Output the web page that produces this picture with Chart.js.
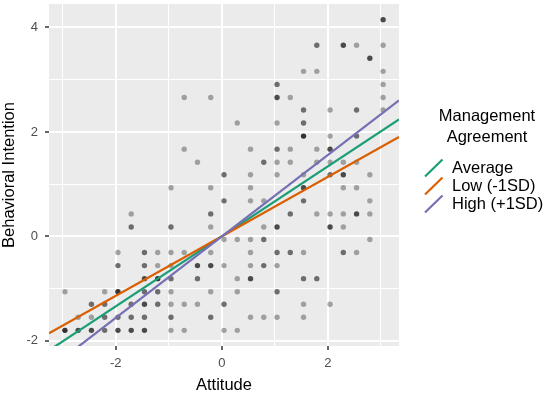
<!DOCTYPE html>
<html>
<head>
<meta charset="utf-8">
<script src="https://cdn.jsdelivr.net/npm/chart.js@4"></script>
<style>
  body { margin: 0; background: #fff; }
  #wrap { width: 546px; height: 396px; }
</style>
</head>
<body>
<div id="wrap"><canvas id="myChart" width="546" height="396"></canvas></div>
<script>
// scatter points, read row by row (overlap = how many points share the spot)
const attitude = [
  -2.96, -2.71, -2.46, -2.21, -1.96, -1.71, -1.46, -0.96, -0.71, 0.04, 0.29,
  -2.71, -2.46, -2.21, -1.96, -1.71, -1.46, -0.96, -0.21, 0.54, 0.79, 1.04, 1.54,
  -2.46, -2.21, -1.71, -1.46, -1.21, -0.96, -0.71, -0.46, 0.04, 1.54, 2.04,
  -2.96, -2.21, -1.96, -1.46, -1.21, -0.96, -0.21, 0.29, 1.04,
  -1.46, -1.21, -0.96, -0.46, 0.29, 0.54, 1.54, 1.79,
  -1.96, -1.46, -1.21, -0.96, -0.46, -0.21, 0.04, 0.54, 0.79, 1.04,
  -1.96, -1.46, -1.21, -0.96, -0.71, -0.21, 0.54, 1.04, 1.29, 1.54, 2.29, 2.54,
  0.04, 0.29, 0.54, 0.79, 2.79,
  -1.71, -0.96, -0.21, 0.79, 1.04, 2.04, 2.29,
  -1.71, -0.21, 1.29, 1.79, 2.04, 2.29, 2.54, 2.79,
  0.04, 0.54, 0.79, 1.54, 2.79,
  -0.96, -0.21, 0.54, 1.54, 2.29, 2.54,
  0.04, 0.54, 1.04, 1.54, 2.04, 2.29, 2.79,
  -0.46, 0.79, 1.04, 1.29, 1.79, 2.04, 2.29, 2.54,
  -0.71, 0.54, 1.04, 1.29, 1.79, 2.04,
  1.54, 2.04, 2.54,
  0.29, 1.04, 1.54,
  1.54, 2.04, 2.54, 3.04,
  -0.71, -0.21, 1.04, 1.29, 3.04,
  1.04, 3.04,
  1.54, 1.79, 3.04,
  2.79,
  1.79, 2.29, 2.54, 3.04,
  3.04
];
const intention = [
  -1.80, -1.80, -1.80, -1.80, -1.80, -1.80, -1.80, -1.80, -1.80, -1.80, -1.80,
  -1.55, -1.55, -1.55, -1.55, -1.55, -1.55, -1.55, -1.55, -1.55, -1.55, -1.55, -1.55,
  -1.30, -1.30, -1.30, -1.30, -1.30, -1.30, -1.30, -1.30, -1.30, -1.30, -1.30,
  -1.06, -1.06, -1.06, -1.06, -1.06, -1.06, -1.06, -1.06, -1.06,
  -0.81, -0.81, -0.81, -0.81, -0.81, -0.81, -0.81, -0.81,
  -0.56, -0.56, -0.56, -0.56, -0.56, -0.56, -0.56, -0.56, -0.56, -0.56,
  -0.31, -0.31, -0.31, -0.31, -0.31, -0.31, -0.31, -0.31, -0.31, -0.31, -0.31, -0.31,
  -0.06, -0.06, -0.06, -0.06, -0.06,
  0.18, 0.18, 0.18, 0.18, 0.18, 0.18, 0.18,
  0.43, 0.43, 0.43, 0.43, 0.43, 0.43, 0.43, 0.43,
  0.68, 0.68, 0.68, 0.68, 0.68,
  0.93, 0.93, 0.93, 0.93, 0.93, 0.93,
  1.18, 1.18, 1.18, 1.18, 1.18, 1.18, 1.18,
  1.42, 1.42, 1.42, 1.42, 1.42, 1.42, 1.42, 1.42,
  1.67, 1.67, 1.67, 1.67, 1.67, 1.67,
  1.92, 1.92, 1.92,
  2.17, 2.17, 2.17,
  2.42, 2.42, 2.42, 2.42,
  2.66, 2.66, 2.66, 2.66, 2.66,
  2.91, 2.91,
  3.16, 3.16, 3.16,
  3.41,
  3.66, 3.66, 3.66, 3.66,
  4.15
];
const overlap = [
  4, 3, 3, 2, 3, 3, 3, 1, 1, 1, 1,
  1, 1, 2, 2, 2, 2, 2, 2, 1, 1, 1, 1,
  2, 2, 2, 3, 2, 1, 1, 1, 2, 1, 1,
  1, 1, 4, 2, 2, 1, 1, 1, 2,
  3, 4, 2, 2, 1, 3, 2, 2,
  2, 2, 1, 1, 3, 3, 1, 1, 2, 1,
  1, 2, 1, 1, 1, 1, 1, 2, 2, 1, 2, 1,
  1, 1, 1, 2, 1,
  2, 2, 1, 1, 3, 3, 1,
  1, 2, 2, 1, 1, 1, 3, 1,
  2, 1, 1, 2, 1,
  1, 1, 1, 3, 1, 1,
  2, 1, 1, 1, 2, 3, 1,
  1, 2, 1, 1, 1, 1, 1, 1,
  1, 1, 2, 1, 1, 3,
  4, 1, 2,
  1, 1, 2,
  2, 1, 2, 1,
  1, 1, 3, 1, 1,
  2, 1,
  1, 1, 1,
  3,
  2, 3, 1, 1,
  3
];

// simple slopes
const groups = ['Average', 'Low (-1SD)', 'High (+1SD)'];
const groupColors = ['#1B9E77', '#D95F02', '#7570B3'];
const slopes = [0.67, 0.57, 0.78];
const intercepts = [0, 0, 0];

const xTicks = [-3, -2, -1, 0, 1, 2, 3];
const yTicks = [-2, -1, 0, 1, 2, 3, 4];
const xRange = [-3.26, 3.34];
const yRange = [-2.10, 4.45];

Chart.defaults.font.family = "'Liberation Sans', Arial, sans-serif";

var points = [];
var pointColors = [];
for (var i = 0; i < attitude.length; i++) {
  points.push({x: attitude[i], y: intention[i]});
  var a = 1 - Math.pow(0.68, overlap[i]);
  pointColors.push('rgba(0,0,0,' + a.toFixed(3) + ')');
}

var lineSets = groups.map(function(g, i) {
  return {
    type: 'line',
    label: g,
    data: xRange.map(function(x) { return {x: x, y: intercepts[i] + slopes[i] * x}; }),
    borderColor: groupColors[i],
    borderWidth: 2.2,
    pointRadius: 0,
    fill: false,
    clip: 0,
    order: [2, 1, 0][i]
  };
});

const isMajor = v => Math.round(v) % 2 === 0;

const panelBg = {
  id: 'panelBg',
  beforeDraw(chart) {
    const {ctx, chartArea: c} = chart;
    ctx.save();
    ctx.fillStyle = '#EBEBEB';
    ctx.fillRect(c.left, c.top, c.right - c.left, c.bottom - c.top);
    ctx.restore();
  }
};

// ggplot style legend on the right
const sideLegend = {
  id: 'sideLegend',
  afterDraw(chart) {
    const ctx = chart.ctx;
    ctx.save();
    ctx.font = "16.5px 'Liberation Sans', Arial, sans-serif";
    ctx.fillStyle = '#000';
    ctx.textBaseline = 'middle';
    ctx.textAlign = 'center';
    ctx.fillText('Management', 487, 116);
    ctx.fillText('Agreement', 487, 137);
    ctx.textAlign = 'left';
    groups.forEach(function(g, i) {
      var yc = 168 + i * 18;
      ctx.strokeStyle = groupColors[i];
      ctx.lineWidth = 2.2;
      ctx.beginPath();
      ctx.moveTo(425, yc + 8.5);
      ctx.lineTo(442.5, yc - 8.5);
      ctx.stroke();
      ctx.fillText(g, 452, yc);
    });
    ctx.restore();
  }
};

function axisGrid() {
  return {
    color: '#FFFFFF',
    lineWidth: c => (c.tick && isMajor(c.tick.value)) ? 2 : 1,
    drawTicks: true,
    tickLength: 4,
    tickWidth: 1.5,
    tickColor: c => (c.tick && isMajor(c.tick.value)) ? '#333333' : 'rgba(0,0,0,0)'
  };
}

const ctx = document.getElementById('myChart').getContext('2d');
var myChart = new Chart(ctx, {
  type: 'scatter',
  data: {
    datasets: lineSets.concat([{
      label: 'points',
      data: points,
      backgroundColor: pointColors,
      borderWidth: 0,
      pointRadius: 2.7,
      order: 3
    }])
  },
  options: {
    responsive: false,
    animation: false,
    layout: { padding: { left: 0, right: 147, top: 0, bottom: 0 } },
    plugins: {
      legend: { display: false },
      tooltip: { enabled: false }
    },
    scales: {
      x: {
        type: 'linear',
        min: xRange[0],
        max: xRange[1],
        afterBuildTicks: s => { s.ticks = xTicks.map(v => ({value: v})); },
        afterFit: s => { s.height = 50; s.paddingLeft = 0; s.paddingRight = 0; },
        border: { display: false },
        grid: axisGrid(),
        ticks: {
          autoSkip: false,
          maxRotation: 0,
          padding: 6,
          color: '#4D4D4D',
          font: { size: 13 },
          callback: v => isMajor(v) ? String(v) : ''
        },
        title: {
          display: true,
          text: 'Attitude',
          color: '#000',
          font: { size: 16.5 },
          padding: { top: 0, bottom: 1 }
        }
      },
      y: {
        type: 'linear',
        min: yRange[0],
        max: yRange[1],
        afterBuildTicks: s => { s.ticks = yTicks.map(v => ({value: v})); },
        afterFit: s => { s.width = 49; s.paddingTop = 0; s.paddingBottom = 0; },
        border: { display: false },
        grid: axisGrid(),
        ticks: {
          autoSkip: false,
          padding: 7,
          color: '#4D4D4D',
          font: { size: 13 },
          callback: v => isMajor(v) ? String(v) : ''
        },
        title: {
          display: true,
          text: 'Behavioral Intention',
          color: '#000',
          font: { size: 16.5 },
          padding: { top: 0, bottom: 0 }
        }
      }
    }
  },
  plugins: [panelBg, sideLegend]
});
</script>
</body>
</html>
